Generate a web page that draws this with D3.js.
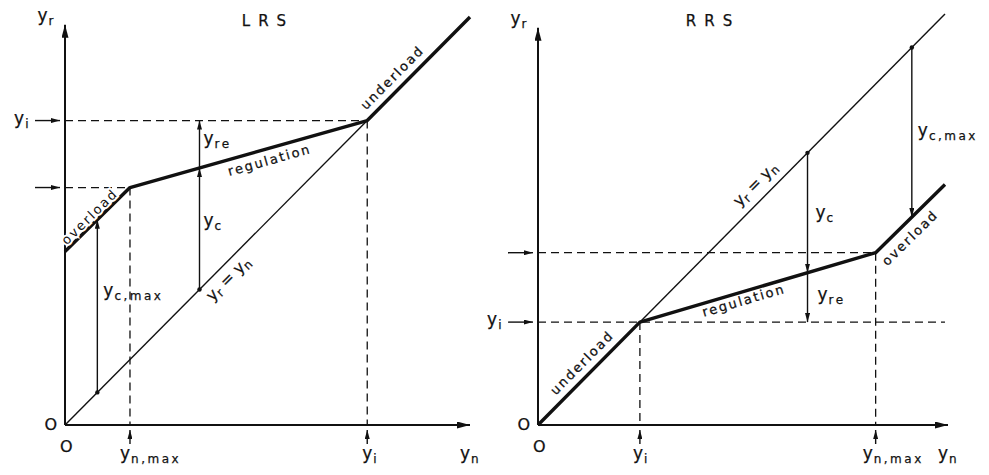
<!DOCTYPE html>
<html>
<head>
<meta charset="utf-8">
<script src="https://cdn.jsdelivr.net/npm/d3@7"></script>
<style>
body { margin: 0; background: #fff; }
svg { display: block; }
text { font-family: "DejaVu Sans", sans-serif; fill: #111; stroke: #111; stroke-width: 0.25px; }
</style>
</head>
<body>
<svg id="chart" width="989" height="475"></svg>
<script>
// LRS panel, values in units where y_i = 10
var lrsCurve = [[0, 5.7], [2.15, 7.8], [10, 10], [13.4, 13.4]];   // overload, regulation, underload
var lrsIdeal = [[0, 0], [10, 10]];                                  // y_r = y_n
var lrsYcMaxAt = 1.07;
var lrsYcAt = 4.45;

// RRS panel
var rrsCurve = [[0, 0], [3.38, 3.38], [11.2, 5.66], [13.5, 7.9]];  // underload, regulation, overload
var rrsIdeal = [[0, 0], [13.5, 13.5]];
var rrsYcAt = 8.94;
var rrsYcMaxAt = 12.4;
var rrsYiDashEnd = 13.5;

var svg = d3.select("#chart");
var defs = svg.append("defs");

function marker(id, len, wid) {
    defs.append("marker")
        .attr("id", id)
        .attr("viewBox", "0 0 " + len + " " + wid)
        .attr("refX", len).attr("refY", wid / 2)
        .attr("markerWidth", len).attr("markerHeight", wid)
        .attr("markerUnits", "userSpaceOnUse")
        .attr("orient", "auto")
        .append("path")
        .attr("d", "M0,0L" + len + "," + (wid / 2) + "L0," + wid + "Z")
        .attr("fill", "#111");
}
marker("big", 13, 7);
marker("small", 9, 5);

// value of a polyline at n
function curveAt(curve, n) {
    for (var i = 1; i < curve.length; i++) {
        var a = curve[i - 1], b = curve[i];
        if (n <= b[0]) return a[1] + (n - a[0]) / (b[0] - a[0]) * (b[1] - a[1]);
    }
    return curve[curve.length - 1][1];
}

function seg(g, x1, y1, x2, y2, w, mk, dash) {
    var l = g.append("line")
        .attr("x1", x1).attr("y1", y1).attr("x2", x2).attr("y2", y2)
        .attr("stroke", "#111").attr("stroke-width", w);
    if (mk) l.attr("marker-end", "url(#" + mk + ")");
    if (dash) l.attr("stroke-dasharray", dash);
    return l;
}

// y with subscript
function symbol(g, x, y, main, sub, anchor) {
    var t = g.append("text")
        .attr("x", x).attr("y", y)
        .attr("text-anchor", anchor || "start")
        .style("font-size", "17px");
    t.append("tspan").text(main);
    if (sub) {
        t.append("tspan").attr("dy", 4).attr("dx", 1)
            .style("font-size", "12px").style("letter-spacing", "2.5px").text(sub);
    }
    return t;
}

// rotated text along a segment, off = perpendicular baseline offset
function alongLabel(g, p0, p1, t, off) {
    var mx = p0[0] + (p1[0] - p0[0]) * t, my = p0[1] + (p1[1] - p0[1]) * t;
    var ang = Math.atan2(p1[1] - p0[1], p1[0] - p0[0]) * 180 / Math.PI;
    return g.append("text")
        .attr("transform", "translate(" + mx + "," + my + ") rotate(" + ang + ")")
        .attr("y", off)
        .attr("text-anchor", "middle");
}

function wordLabel(g, p0, p1, t, off, word, halo) {
    var tx = alongLabel(g, p0, p1, t, off)
        .style("font-size", "13px").style("letter-spacing", "2px").text(word);
    if (halo) tx.style("stroke", "#fff").style("stroke-width", "4px").attr("paint-order", "stroke");
    return tx;
}

function identLabel(g, p0, p1, t, off) {
    var tx = alongLabel(g, p0, p1, t, off).style("font-size", "16px");
    tx.append("tspan").text("y");
    tx.append("tspan").attr("dy", 3).style("font-size", "12px").text("r");
    tx.append("tspan").attr("dy", -3).text(" = y");
    tx.append("tspan").attr("dy", 3).style("font-size", "12px").text("n");
}

function drawPanel(p) {
    var g = svg.append("g");
    var x = p.x, y = p.y;
    var x0 = x(0), y0 = y(0);
    var px = function (d) { return [x(d[0]), y(d[1])]; };

    // dashed guides
    p.hGuides.forEach(function (h) {
        seg(g, x0, y(h[0]), x(h[1]), y(h[0]), 1.3, null, "8,5");
    });
    p.vGuides.forEach(function (v) {
        seg(g, x(v[0]), y(v[1]), x(v[0]), y0, 1.3, null, "8,5");
    });

    // axes
    seg(g, x0, y0, x0, y(p.yTop), 2, "big");
    seg(g, x0, y0, x(p.xRight), y0, 2, "big");

    // ideal line and characteristic
    var line = d3.line().x(function (d) { return x(d[0]); }).y(function (d) { return y(d[1]); });
    g.append("path").attr("d", line(p.ideal))
        .attr("fill", "none").attr("stroke", "#111").attr("stroke-width", 1.4);
    g.append("path").attr("d", line(p.curve))
        .attr("fill", "none").attr("stroke", "#111").attr("stroke-width", 3.4)
        .attr("stroke-linejoin", "round");

    // marker arrows beside the axes
    p.leftArrows.forEach(function (a) {
        seg(g, x0 - 30, y(a.v), x0 - 5, y(a.v), 1.4, "small");
        if (a.label) symbol(g, x0 - 34, y(a.v) + 3, "y", a.label, "end");
    });
    p.bottomArrows.forEach(function (a) {
        seg(g, x(a.v), y0 + 19, x(a.v), y0 + 5, 1.4, "small");
        symbol(g, x(a.v) - a.dx, y0 + 34, "y", a.label);
    });

    // control range arrows
    p.arrows.forEach(function (a) {
        var ya = a.from, yb = a.to;
        seg(g, x(a.n), y(ya), x(a.n), y(yb), 1.4, "small");
        if (a.dot) g.append("circle").attr("cx", x(a.n)).attr("cy", y(ya)).attr("r", 2.2).attr("fill", "#111");
        symbol(g, x(a.n) + a.dx, (y(ya) + y(yb)) / 2 + a.dy, "y", a.label);
    });

    // axis labels
    symbol(g, x0 - 9, y(p.yTop) - 4, "y", "r", "end");
    symbol(g, x(p.xRight) - 10, y0 + 34, "y", "n");
    g.append("text").attr("x", x0 - 8).attr("y", y0 + 5).attr("text-anchor", "end")
        .style("font-size", "16px").text("O");
    g.append("text").attr("x", x0 - 5).attr("y", y0 + 27)
        .style("font-size", "16px").text("O");
    g.append("text").attr("x", p.titleX + 4).attr("y", 26).attr("text-anchor", "middle")
        .style("font-size", "15px").style("letter-spacing", "8px").text(p.title);

    // segment labels
    p.words.forEach(function (w) {
        wordLabel(g, px(p.curve[w.i]), px(p.curve[w.i + 1]), w.t, w.off, w.text, w.halo);
    });
    identLabel(g, px(p.ideal[0]), px(p.ideal[1]), p.identT, p.identOff);
}

// LRS
var xL = d3.scaleLinear().domain([0, 13.4]).range([65, 470]);
var yL = d3.scaleLinear().domain([0, 13.5]).range([425, 14]);
var lrsKnee = lrsCurve[1], lrsYi = lrsCurve[2];
var lrsMid = curveAt(lrsCurve, lrsYcAt);

drawPanel({
    x: xL, y: yL, yTop: 13.15, xRight: 13.4,
    title: "LRS", titleX: 264,
    curve: lrsCurve, ideal: lrsIdeal,
    hGuides: [[lrsYi[1], lrsYi[0]], [lrsKnee[1], lrsKnee[0]]],
    vGuides: [lrsYi, lrsKnee],
    leftArrows: [{ v: lrsYi[1], label: "i" }, { v: lrsKnee[1] }],
    bottomArrows: [{ v: lrsKnee[0], label: "n,max", dx: 10 }, { v: lrsYi[0], label: "i", dx: 5 }],
    arrows: [
        { n: lrsYcMaxAt, from: lrsYcMaxAt, to: curveAt(lrsCurve, lrsYcMaxAt), dot: true, label: "c,max", dx: 6, dy: -10 },
        { n: lrsYcAt, from: lrsYcAt, to: lrsMid, dot: true, label: "c", dx: 4, dy: -3 },
        { n: lrsYcAt, from: lrsMid, to: lrsYi[1], label: "re", dx: 4, dy: 0 }
    ],
    words: [
        { i: 0, t: 0.46, off: -3, text: "overload", halo: true },
        { i: 1, t: 0.575, off: 16, text: "regulation" },
        { i: 2, t: 0.33, off: -8, text: "underload" }
    ],
    identT: 0.51, identOff: 18
});

// RRS
var xR = d3.scaleLinear().domain([0, 13.6]).range([538, 948]);
var yR = d3.scaleLinear().domain([0, 13.5]).range([425, 14]);
var rrsYi = rrsCurve[1], rrsKnee = rrsCurve[2];
var rrsMid = curveAt(rrsCurve, rrsYcAt);

drawPanel({
    x: xR, y: yR, yTop: 13.05, xRight: 13.6,
    title: "RRS", titleX: 709,
    curve: rrsCurve, ideal: rrsIdeal,
    hGuides: [[rrsKnee[1], rrsKnee[0]], [rrsYi[1], rrsYiDashEnd]],
    vGuides: [rrsYi, rrsKnee],
    leftArrows: [{ v: rrsKnee[1] }, { v: rrsYi[1], label: "i" }],
    bottomArrows: [{ v: rrsYi[0], label: "i", dx: 7 }, { v: rrsKnee[0], label: "n,max", dx: 13 }],
    arrows: [
        { n: rrsYcAt, from: rrsYcAt, to: rrsMid, dot: true, label: "c", dx: 8, dy: 5 },
        { n: rrsYcAt, from: rrsMid, to: rrsYi[1], label: "re", dx: 10, dy: 3 },
        { n: rrsYcMaxAt, from: rrsYcMaxAt, to: curveAt(rrsCurve, rrsYcMaxAt), dot: true, label: "c,max", dx: 6, dy: 4 }
    ],
    words: [
        { i: 0, t: 0.52, off: -8, text: "underload" },
        { i: 1, t: 0.43, off: 13, text: "regulation" },
        { i: 2, t: 0.36, off: 18, text: "overload" }
    ],
    identT: 0.56, identOff: -10
});
</script>
</body>
</html>
